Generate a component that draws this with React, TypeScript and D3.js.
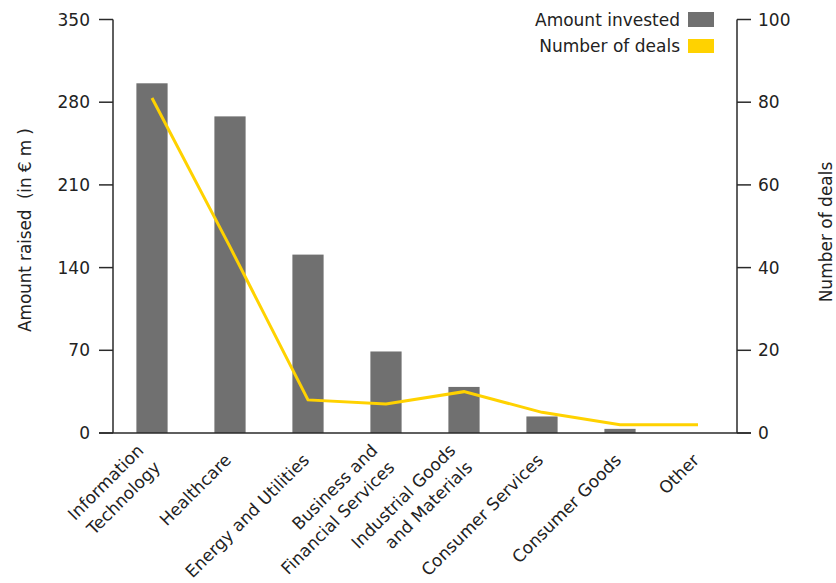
import React from "react";
import * as d3 from "d3";

const categories: string[][] = [
  ["Information", "Technology"],
  ["Healthcare"],
  ["Energy and Utilities"],
  ["Business and", "Financial Services"],
  ["Industrial Goods", "and Materials"],
  ["Consumer Services"],
  ["Consumer Goods"],
  ["Other"],
];
const amountInvested = [296, 268, 151, 69, 39, 14, 3.5, 0];
const numberOfDeals = [81, 45, 8, 7, 10, 5, 2, 2];
const leftTicks = [0, 70, 140, 210, 280, 350];
const rightTicks = [0, 20, 40, 60, 80, 100];

const W = 836;
const H = 583;
const left = 113;
const right = 737;
const top = 19.5;
const bottom = 433;
const FONT = "'DejaVu Sans', sans-serif";
const FS = 17;
const GREY = "#707070";
const YELLOW = "#FFD200";
const AXIS = "#2a2a2a";
const TEXT = "#222";

export default function App() {
  const keys = categories.map((c) => c.join(" "));
  const x = d3.scaleBand<string>().domain(keys).range([left, right]).paddingInner(0.6).paddingOuter(0.3);
  const yL = d3.scaleLinear().domain([0, 350]).range([bottom, top]);
  const yR = d3.scaleLinear().domain([0, 100]).range([bottom, top]);
  const cx = (i: number) => (x(keys[i]) ?? 0) + x.bandwidth() / 2;
  const line = d3
    .line<number>()
    .x((_, i) => cx(i))
    .y((d) => yR(d));

  return (
    <svg width={W} height={H} style={{ position: "absolute", left: 0, top: 0 }} fontFamily={FONT}>
      <rect width={W} height={H} fill="#fff" />
      {amountInvested.map((v, i) => (
        <rect key={i} x={x(keys[i])} y={yL(v)} width={x.bandwidth()} height={yL(0) - yL(v)} fill={GREY} />
      ))}
      <path d={line(numberOfDeals) ?? ""} fill="none" stroke={YELLOW} strokeWidth={3} strokeLinejoin="miter" />

      {/* left axis */}
      <line x1={left} x2={left} y1={yL(350)} y2={bottom} stroke={AXIS} strokeWidth={1.5} />
      {leftTicks.map((t) => (
        <g key={t}>
          <line x1={left - 14} x2={left} y1={yL(t)} y2={yL(t)} stroke={AXIS} strokeWidth={1.5} />
          <text x={90} y={yL(t)} dy="0.36em" textAnchor="end" fontSize={FS} fill={TEXT}>
            {t}
          </text>
        </g>
      ))}
      <text
        transform={`translate(25,230) rotate(-90)`}
        textAnchor="middle"
        fontSize={FS}
        fill={TEXT}
        dy="0.36em"
        textLength={204}
        lengthAdjust="spacing"
        style={{ whiteSpace: "pre" }}
      >
        {"Amount raised  (in € m )"}
      </text>

      {/* right axis */}
      <line x1={right} x2={right} y1={yR(100)} y2={bottom} stroke={AXIS} strokeWidth={1.5} />
      {rightTicks.map((t) => (
        <g key={t}>
          <line x1={right} x2={right + 14} y1={yR(t)} y2={yR(t)} stroke={AXIS} strokeWidth={1.5} />
          <text x={758} y={yR(t)} dy="0.36em" textAnchor="start" fontSize={FS} fill={TEXT}>
            {t}
          </text>
        </g>
      ))}
      <text transform={`translate(826,232) rotate(-90)`} textAnchor="middle" fontSize={FS} fill={TEXT} dy="0.36em">
        Number of deals
      </text>

      {/* x axis */}
      <line x1={left - 14} x2={right + 14} y1={bottom} y2={bottom} stroke={AXIS} strokeWidth={1.5} />
      {categories.map((lines, i) => (
        <text
          key={i}
          transform={`translate(${cx(i) - 2},${bottom + 24}) rotate(-45)`}
          textAnchor="end"
          fontSize={FS}
          fill={TEXT}
        >
          {lines.map((l, j) => (
            <tspan key={j} x={0} dy={j === 0 ? (lines.length > 1 ? "-0.45em" : "0.35em") : "1.4em"}>
              {l}
            </tspan>
          ))}
        </text>
      ))}

      {/* legend */}
      <text x={680} y={26} textAnchor="end" fontSize={FS} fill={TEXT}>
        Amount invested
      </text>
      <rect x={688} y={12} width={26} height={15} fill={GREY} />
      <text x={680} y={52} textAnchor="end" fontSize={FS} fill={TEXT}>
        Number of deals
      </text>
      <rect x={688} y={39} width={26} height={14} fill={YELLOW} />
    </svg>
  );
}
